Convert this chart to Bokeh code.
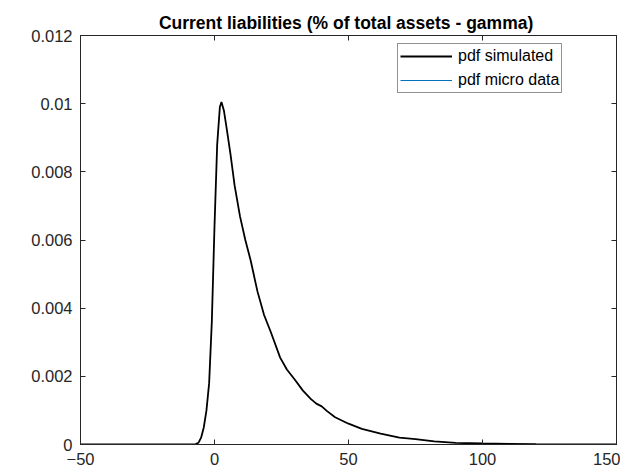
from bokeh.plotting import figure
from bokeh.models import Range1d, LinearAxis, FixedTicker, Legend, LegendItem
from bokeh.embed import file_html
from bokeh.resources import INLINE

# ---- data ----
sim_x = [-50, -10, -7, -6, -5, -4, -3, -2, -1, 0, 1, 2, 2.6, 3.5, 4.5, 6, 7.5, 9.5,
         11.5, 13.5, 16, 18.5, 21, 24.5, 27, 30, 33, 36, 38, 40, 42, 45, 50, 55,
         62, 69, 75, 82, 90, 100, 110, 120, 130, 140, 150]
sim_y = [0, 0, 0.00001, 0.00005, 0.0002, 0.0005, 0.0010, 0.0018, 0.0036, 0.0064,
         0.0088, 0.0099, 0.01005, 0.0098, 0.0093, 0.0085, 0.0076, 0.0067,
         0.0060, 0.0054, 0.0045, 0.0038, 0.0033, 0.00255, 0.0022, 0.0019,
         0.00158, 0.00133, 0.0012, 0.00112, 0.00098, 0.0008, 0.00061, 0.00046,
         0.00032, 0.0002, 0.00016, 0.00009, 0.00005, 0.00003, 0.00002, 0.00001,
         0.000005, 0.000002, 0]
micro_x = [-50, 150]
micro_y = [0, 0]

x_ticks = [-50, 0, 50, 100, 150]
y_ticks = [0, 0.002, 0.004, 0.006, 0.008, 0.01, 0.012]
y_tick_labels = ["0", "0.002", "0.004", "0.006", "0.008", "0.01", "0.012"]

title_text = "Current liabilities (% of total assets  - gamma)"
FONT = "Liberation Sans"
AX = "#262626"

p = figure(frame_width=536, frame_height=409, output_backend="svg", toolbar_location=None,
           x_range=Range1d(-50, 150), y_range=Range1d(0, 0.012),
           min_border_left=80, min_border_right=4, min_border_top=35,
           min_border_bottom=10)
p.grid.visible = False
p.outline_line_color = AX
p.background_fill_color = "white"

p.title.text = title_text
p.title.align = "center"
p.title.text_font = FONT
p.title.text_font_size = "17.5px"
p.title.text_font_style = "bold"
p.title.text_color = "black"
p.title.standoff = 6

def style_axis(ax, show_labels):
    ax.axis_line_color = AX
    ax.major_tick_line_color = AX
    ax.minor_tick_line_color = None
    ax.major_tick_in = 5
    ax.major_tick_out = 0
    ax.major_label_text_font = FONT
    ax.major_label_text_color = AX
    if show_labels:
        ax.major_label_text_font_size = "16.5px"
    else:
        ax.major_label_text_font_size = "1px"
        ax.major_label_standoff = 0

xa = p.xaxis[0]
xa.ticker = FixedTicker(ticks=x_ticks)
style_axis(xa, True)
xa.major_label_standoff = 8

ya = p.yaxis[0]
ya.ticker = FixedTicker(ticks=y_ticks)
ya.major_label_overrides = {t: s for t, s in zip(y_ticks, y_tick_labels)}
style_axis(ya, True)
ya.major_label_standoff = 8

top = LinearAxis(ticker=FixedTicker(ticks=x_ticks))
top.major_label_overrides = {t: "" for t in x_ticks}
style_axis(top, False)
p.add_layout(top, "above")
right = LinearAxis(ticker=FixedTicker(ticks=y_ticks))
right.major_label_overrides = {t: "" for t in y_ticks}
style_axis(right, False)
p.add_layout(right, "right")

r_sim = p.line(sim_x, sim_y, line_color="black", line_width=1.8)
r_micro = p.line(micro_x, micro_y, line_color="#0072BD", line_width=1)

legend = Legend(items=[LegendItem(label="pdf simulated", renderers=[r_sim]),
                       LegendItem(label="pdf micro data", renderers=[r_micro])],
                location=(317, 351))
legend.label_text_font = FONT
legend.label_text_font_size = "16px"
legend.label_text_color = "black"
legend.glyph_width = 52
legend.glyph_height = 20
legend.label_height = 20
legend.label_standoff = 6
legend.spacing = 4
legend.padding = 2
legend.margin = 0
legend.border_line_color = AX
legend.border_line_width = 1
legend.background_fill_color = "white"
legend.background_fill_alpha = 1
p.add_layout(legend, "center")

open("out.html", "w").write(file_html(p, INLINE))
